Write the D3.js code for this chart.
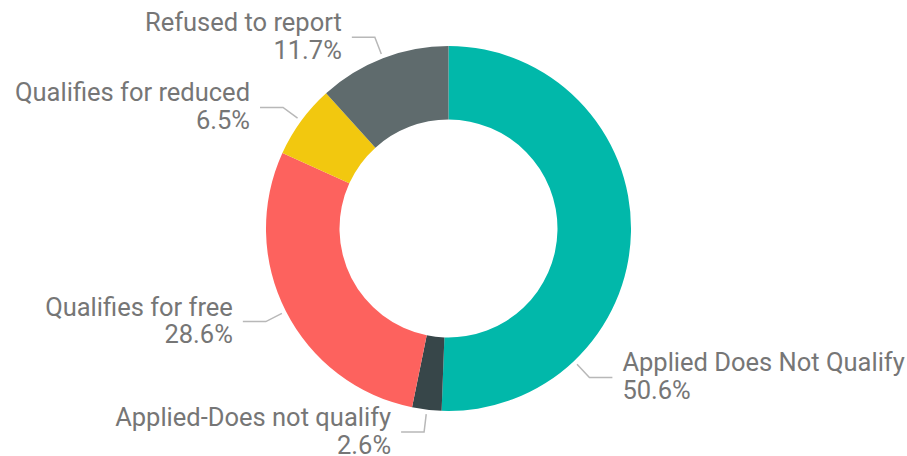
<!DOCTYPE html>
<html>
<head>
<meta charset="utf-8">
<script src="https://cdn.jsdelivr.net/npm/d3@7"></script>
<style>
  html, body { margin: 0; padding: 0; background: #fff; }
  svg { display: block; }
  text { font-family: Roboto, "Open Sans", sans-serif; }
</style>
</head>
<body>
<svg id="chart" width="907" height="456"></svg>
<script>
// slices, clockwise from 12 o'clock
var categories = [
    'Applied Does Not Qualify',
    'Applied-Does not qualify',
    'Qualifies for free',
    'Qualifies for reduced',
    'Refused to report'
];
var shares = [50.6, 2.6, 28.6, 6.5, 11.7];
var shareLabels = ['50.6%', '2.6%', '28.6%', '6.5%', '11.7%'];

var palette = ['#01B8AA', '#374649', '#FD625E', '#F2C80F', '#5F6B6D'];

var width = 907, height = 456;
var cx = 448.5, cy = 228.5;
var outerR = 182.5, innerR = 109;

var svg = d3.select('#chart');
var g = svg.append('g')
    .attr('transform', 'translate(' + cx + ',' + cy + ')');

var color = d3.scaleOrdinal()
    .domain(categories)
    .range(palette);

var data = categories.map(function(c, i) {
    return {category: c, value: shares[i], label: shareLabels[i]};
});

var pie = d3.pie()
    .sort(null)
    .value(function(d) { return d.value; });

var arc = d3.arc()
    .innerRadius(innerR)
    .outerRadius(outerR);

var slices = pie(data);

g.selectAll('path.slice')
    .data(slices)
    .enter().append('path')
    .attr('class', 'slice')
    .attr('d', arc)
    .attr('fill', function(d) { return color(d.data.category); });

// the big slice gets its label pushed down towards the lower right
function labelAngle(d) {
    var mid = (d.startAngle + d.endAngle) / 2;
    if (d.index === 0)
        return mid + (45.5 * Math.PI / 180);
    return mid;
}

function polar(r, a) {
    return [r * Math.sin(a), -r * Math.cos(a)];
}

var labels = g.selectAll('g.label')
    .data(slices)
    .enter().append('g')
    .attr('class', 'label');

labels.each(function(d) {
    var a = labelAngle(d);
    var side = Math.sin(a) >= 0 ? 1 : -1;
    var p1 = polar(outerR + 4.5, a);
    var p2 = polar(outerR + 22.5, a);
    var p3 = [p2[0] + side * 23, p2[1]];
    var sel = d3.select(this);

    sel.append('polyline')
        .attr('points', [p1, p2, p3].map(function(p) { return p.join(','); }).join(' '))
        .attr('fill', 'none')
        .attr('stroke', '#b8b8b8')
        .attr('stroke-width', 1.5);

    var tx = p3[0] + side * 10;
    var text = sel.append('text')
        .attr('text-anchor', side > 0 ? 'start' : 'end')
        .attr('font-size', 25.5)
        .attr('fill', '#767676');
    text.append('tspan')
        .attr('x', tx)
        .attr('y', p3[1] - 6)
        .text(d.data.category);
    text.append('tspan')
        .attr('x', tx)
        .attr('y', p3[1] + 21.5)
        .text(d.data.label);
});
</script>
</body>
</html>
